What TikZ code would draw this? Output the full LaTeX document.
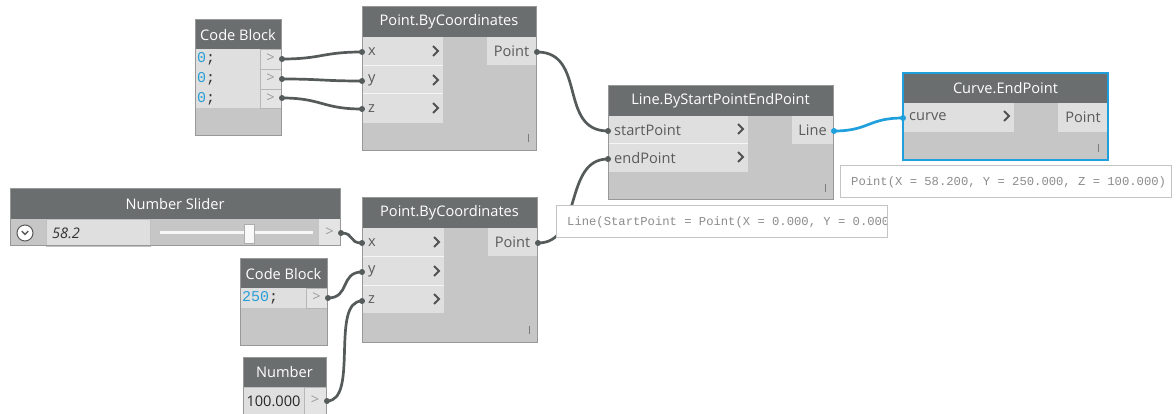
\documentclass[tikz,border=0pt]{standalone}
\usepackage{fontspec}
\setmainfont{Open Sans}
\newfontfamily\monofont{Liberation Mono}
\definecolor{hdrc}{HTML}{6A6E6F}
\definecolor{bodyc}{HTML}{C6C6C6}
\definecolor{rowc}{HTML}{DFDFDF}
\definecolor{portc}{HTML}{E4E4E4}
\definecolor{bordc}{HTML}{989898}
\definecolor{wirec}{HTML}{555B5B}
\definecolor{selc}{HTML}{1FA0DC}
\definecolor{codec}{HTML}{2A9FD6}
\definecolor{labc}{HTML}{5A5A5A}
\definecolor{tipc}{HTML}{8C8C8C}
\definecolor{tipb}{HTML}{C4C4C4}
\newcommand\nfs{\fontsize{14.6}{16}\selectfont}
\newcommand\mfs{\monofont\fontsize{12.2}{14}\selectfont}
\newcommand\cfs{\monofont\fontsize{15}{17}\selectfont}
\newcommand\chevron[2]{\draw[chev] (#1-3,#2-5) -- (#1+2,#2) -- (#1-3,#2+5);}
\tikzset{
 bodyfill/.style={fill=bodyc},
 hdr/.style={fill=hdrc},
 row/.style={fill=rowc},
 portbox/.style={fill=portc,draw=bordc!70,line width=0.6pt},
 frame/.style={draw=bordc,line width=1pt},
 sep/.style={draw=white!70!rowc,line width=1pt},
 title/.style={text=white,font=\nfs,inner sep=0pt},
 lab/.style={text=labc,font=\nfs,inner sep=0pt,anchor=west},
 outlab/.style={text=labc,font=\nfs,inner sep=0pt},
 chev/.style={draw=labc!90!black,line width=2pt},
 wire/.style={draw=wirec,line width=2.7pt},
 bwire/.style={draw=selc,line width=2.7pt},
 wiredot/.style={fill=wirec},
 bluedot/.style={fill=selc},
 tip/.style={fill=white,draw=tipb,line width=1pt},
 tiptext/.style={text=tipc,font=\mfs,inner sep=0pt,anchor=west},
 porttext/.style={text=labc!60,font=\nfs,inner sep=0pt},
 imark/.style={draw=labc!80,line width=0.9pt},
 codetext/.style={font=\cfs,inner sep=0pt,anchor=west,text=black!80}
}
\begin{document}
\begin{tikzpicture}[x=1pt,y=-1pt]
\clip (0,0) rectangle (1176,414);
\fill[white] (0,0) rectangle (1176,414);

% ---------- Code Block 1
\path[bodyfill] (195,20) rectangle (281,136);
\path[hdr] (195,20) rectangle (281,49);
\path[row] (195,49) rectangle (260,108);
\path[portbox] (260,49) rectangle (281,69);
\path[portbox] (260,69) rectangle (281,89);
\path[portbox] (260,89) rectangle (281,108);
\draw[frame] (195,20) rectangle (281,136);
\node[title] (cb1t) at (238,35) {Code Block};
\node[codetext] (cb1v1) at (197,59) {\textcolor{codec}{0};};
\node[codetext] (cb1v2) at (197,79) {\textcolor{codec}{0};};
\node[codetext] (cb1v3) at (197,99) {\textcolor{codec}{0};};
\node[porttext] (cb1p1) at (270.5,58) {>};
\node[porttext] (cb1p2) at (270.5,78) {>};
\node[porttext] (cb1p3) at (270.5,98) {>};
\coordinate (cb1o1) at (282,59);
\coordinate (cb1o2) at (282,79);
\coordinate (cb1o3) at (282,98);

% ---------- Point.ByCoordinates 1
\path[bodyfill] (362,7) rectangle (536,151);
\path[hdr] (362,7) rectangle (536,37);
\path[row] (362,37) rectangle (443,123);
\draw[sep] (362,66) -- (443,66);
\draw[sep] (362,94) -- (443,94);
\path[row] (487,37) rectangle (536,65);
\draw[frame] (362,7) rectangle (536,151);
\node[title] (p1t) at (449,22) {Point.ByCoordinates};
\node[lab] (p1lx) at (368,52) {x};
\node[lab] (p1ly) at (368,80) {y};
\node[lab] (p1lz) at (368,109) {z};
\chevron{436}{51}
\chevron{436}{80}
\chevron{436}{108}
\node[outlab] (p1o) at (511.5,51) {Point};
\draw[imark] (528,134) -- (528,142);
\coordinate (p1ix) at (362,52);
\coordinate (p1iy) at (362,81);
\coordinate (p1iz) at (362,109);
\coordinate (p1out) at (537,52);

% ---------- Number Slider
\path[bodyfill] (10,189) rectangle (340,246);
\path[hdr] (10,189) rectangle (340,219);
\path[fill=rowc,draw=bordc!60,line width=0.6pt] (46,219) rectangle (150,246);
\path[fill=portc] (319,219) rectangle (340,246);
\draw[frame] (10,189) rectangle (340,246);
\node[title] (nst) at (175,204) {Number Slider};
\draw[fill=white,draw=labc,line width=1pt] (25,233) circle (8);
\draw[labc,line width=1.4pt] (21.8,231.2) -- (25,234.4) -- (28.2,231.2);
\node[inner sep=0pt,anchor=west,font=\nfs\itshape,text=black!80] (nsv) at (52,233) {58.2};
\draw[line width=3pt,draw=white!85!bodyc] (160,233) -- (313,233);
\draw[fill=white!90!bodyc,draw=bordc!80,line width=0.8pt] (244,224) rectangle (254,243);
\node[porttext] (nsp) at (329.5,232) {>};
\coordinate (nso) at (341,233);

% ---------- Code Block 2
\path[bodyfill] (240,259) rectangle (327,345);
\path[hdr] (240,259) rectangle (327,288);
\path[row] (240,288) rectangle (306,308);
\path[portbox] (306,288) rectangle (327,308);
\draw[frame] (240,259) rectangle (327,345);
\node[title] (cb2t) at (283.5,274) {Code Block};
\node[codetext] (cb2v) at (242,298) {\textcolor{codec}{250};};
\node[porttext] (cb2p) at (316.5,297) {>};
\coordinate (cb2o) at (328,298);

% ---------- Number
\path[bodyfill] (243,357) rectangle (326,420);
\path[hdr] (243,357) rectangle (326,387);
\path[fill=rowc,draw=bordc!60,line width=0.6pt] (243,387) rectangle (304,416);
\path[portbox] (304,387) rectangle (326,416);
\draw[frame] (243,357) rectangle (326,420);
\node[title] (nt) at (284.5,372) {Number};
\node[inner sep=0pt,font=\nfs,text=black!85] (nv) at (273.5,401) {100.000};
\node[porttext] (np) at (315,400) {>};
\coordinate (no) at (327,401);

% ---------- Point.ByCoordinates 2
\path[bodyfill] (362,198) rectangle (537,342);
\path[hdr] (362,198) rectangle (537,228);
\path[row] (362,228) rectangle (444,313);
\draw[sep] (362,257) -- (444,257);
\draw[sep] (362,286) -- (444,286);
\path[row] (488,228) rectangle (537,256);
\draw[frame] (362,198) rectangle (537,342);
\node[title] (p2t) at (449.5,213) {Point.ByCoordinates};
\node[lab] (p2lx) at (368,243) {x};
\node[lab] (p2ly) at (368,271) {y};
\node[lab] (p2lz) at (368,300) {z};
\chevron{437}{242}
\chevron{437}{271}
\chevron{437}{299}
\node[outlab] (p2o) at (512.5,242) {Point};
\draw[imark] (529,326) -- (529,334);
\coordinate (p2ix) at (362,243);
\coordinate (p2iy) at (362,272);
\coordinate (p2iz) at (362,301);
\coordinate (p2out) at (538,243);

% ---------- Line.ByStartPointEndPoint
\path[bodyfill] (608,86) rectangle (833,200);
\path[hdr] (608,86) rectangle (833,116);
\path[row] (608,116) rectangle (748,172);
\draw[sep] (608,144) -- (748,144);
\path[row] (792,116) rectangle (833,144);
\draw[frame] (608,86) rectangle (833,200);
\node[title] (lt) at (720.5,101) {Line.ByStartPointEndPoint};
\node[lab] (lls) at (614,130) {startPoint};
\node[lab] (lle) at (614,158) {endPoint};
\chevron{741}{129}
\chevron{741}{157}
\node[outlab] (lo) at (812.5,130) {Line};
\draw[imark] (825,184) -- (825,192);
\coordinate (lis) at (608,131);
\coordinate (lie) at (608,159);
\coordinate (lout) at (834,131);

% ---------- Curve.EndPoint
\path[bodyfill] (903,73) rectangle (1108,160);
\path[hdr] (903,73) rectangle (1108,103);
\path[row] (903,103) rectangle (1014,132);
\path[row] (1058,103) rectangle (1108,132);
\draw[draw=selc,line width=2pt] (903,73) rectangle (1108,160);
\node[title] (ct) at (1005.5,88) {Curve.EndPoint};
\node[lab] (clc) at (909,117) {curve};
\chevron{1007}{116}
\node[outlab] (co) at (1083,117) {Point};
\draw[imark] (1098,144) -- (1098,152);
\coordinate (cin) at (903,118);

% ---------- wires
\draw[wire] (cb1o1) .. controls +(40,0) and +(-40,0) .. (p1ix);
\draw[wire] (cb1o2) .. controls +(40,0) and +(-40,0) .. (p1iy);
\draw[wire] (cb1o3) .. controls +(40,0) and +(-40,0) .. (p1iz);
\draw[wire] (p1out) .. controls +(50,0) and +(-50,0) .. (lis);
\draw[wire] (p2out) .. controls +(45,0) and +(-45,0) .. (lie);
\draw[wire] (nso) .. controls +(14,0) and +(-14,0) .. (p2ix);
\draw[wire] (cb2o) .. controls +(22,0) and +(-22,0) .. (p2iy);
\draw[wire] (no) .. controls +(32,0) and +(-32,0) .. (p2iz);
\draw[bwire] (lout) .. controls +(35,0) and +(-35,0) .. (cin);
\foreach \c in {cb1o1,cb1o2,cb1o3,p1ix,p1iy,p1iz,p1out,nso,cb2o,no,p2ix,p2iy,p2iz,p2out,lis,lie}
  {\fill[wiredot] (\c) circle (3);}
\fill[bluedot] (lout) circle (3);
\fill[bluedot] (cin) circle (3);

% ---------- tooltips
\draw[tip] (840,166) rectangle (1171,198);
\node[tiptext] (tp) at (851,182) {Point(X = 58.200, Y = 250.000, Z = 100.000)};
\draw[tip] (556,206) rectangle (887,238);
\begin{scope}
\clip (557,207) rectangle (886,237);
\node[tiptext] (tl) at (567,222) {Line(StartPoint = Point(X = 0.000, Y = 0.000};
\end{scope}
\end{tikzpicture}
\end{document}
